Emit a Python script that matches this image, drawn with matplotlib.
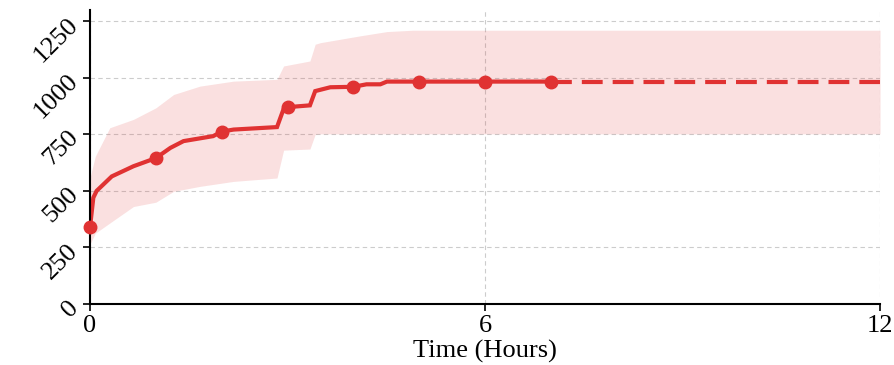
# Kurve mit Unsicherheitsband ueber die Zeit nachzeichnen
import numpy as np
import matplotlib.pyplot as plt

plt.rcParams['font.family'] = ['Liberation Serif', 'DejaVu Serif']

# Mittelwert
zeit = [0.0, 0.05, 0.1, 0.33, 0.66, 1.0, 1.22, 1.42, 1.87, 2.0, 2.18, 2.84,
        2.94, 3.0, 3.34, 3.42, 3.65, 4.0, 4.2, 4.41, 4.51, 5.0, 6.0, 7.0]
mittel = [340, 470, 500, 564, 609, 645, 690, 720, 742, 762, 771, 782,
          862, 870, 878, 941, 958, 960, 971, 971, 983, 983, 983, 983]

# Band
band_zeit = [0.0, 0.08, 0.3, 0.66, 1.0, 1.27, 1.67, 2.18, 2.84, 2.94, 3.34, 3.42,
             3.5, 4.1, 4.51, 4.9, 12.0]
band_unten = [265, 313, 358, 431, 450, 498, 520, 542, 557, 680, 685, 750,
              752, 752, 752, 752, 752]
band_oben = [560, 653, 779, 816, 867, 926, 963, 985, 993, 1052, 1074, 1148,
             1155, 1185, 1204, 1210, 1210]

# Marker und Prognose
marker_zeit = [0, 1, 2, 3, 4, 5, 6, 7]
marker_wert = [340, 645, 762, 870, 960, 983, 983, 983]
prognose_zeit = [7.0, 12.0]
prognose_wert = [983, 983]

rot = '#e03232'

fig = plt.figure(figsize=(8.95, 3.65), dpi=100)
achsen = fig.add_axes([0.1006, 0.167, 0.8827, 0.806])

# Gitter
achsen.set_axisbelow(True)
achsen.grid(True, linestyle=(0, (4, 3)), color='#cccccc', linewidth=0.8)

achsen.fill_between(band_zeit, band_unten, band_oben, color=rot, alpha=0.15,
                    linewidth=0)
achsen.plot(zeit, mittel, color=rot, linewidth=3, solid_joinstyle='miter')
achsen.plot(prognose_zeit, prognose_wert, color=rot, linewidth=3,
            dashes=(5, 2.4))
achsen.plot(marker_zeit, marker_wert, 'o', color=rot, markersize=9,
            clip_on=False, zorder=3)

# Achsen
achsen.spines['top'].set_visible(False)
achsen.spines['right'].set_visible(False)
achsen.spines['left'].set_linewidth(1.5)
achsen.spines['bottom'].set_linewidth(1.5)
achsen.set_xlim(0, 12)
achsen.set_ylim(0, 1300)
achsen.set_xticks([0, 6, 12])
achsen.set_yticks([0, 250, 500, 750, 1000, 1250])
achsen.tick_params(axis='both', labelsize=19, length=5, width=1.2)
achsen.tick_params(axis='x', pad=3)
achsen.tick_params(axis='y', pad=6)
for t in achsen.get_yticklabels():
    t.set_rotation(45)
    t.set_rotation_mode('anchor')
    t.set_ha('right')
    t.set_va('center')

achsen.set_xlabel('Time (Hours)', fontsize=19, labelpad=2)

fig.savefig('out.png', dpi=100)
